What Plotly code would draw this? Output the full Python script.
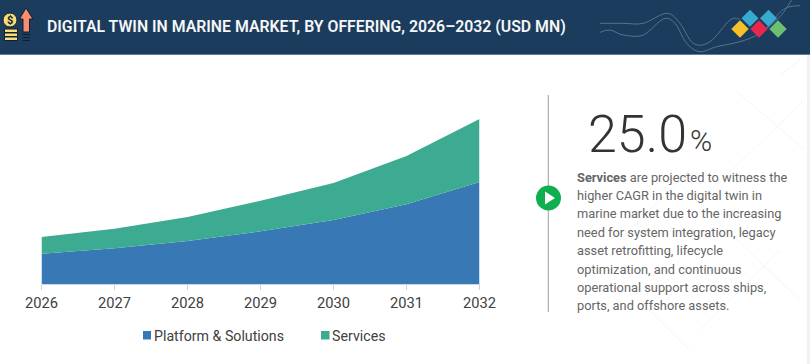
import plotly.graph_objects as go

years = [2026, 2027, 2028, 2029, 2030, 2031, 2032]
platform_solutions = [30.3, 35.7, 43.0, 52.7, 64.0, 79.7, 102.0]
services = [16.7, 19.6, 24.0, 30.6, 37.0, 48.3, 63.0]

title_text = "DIGITAL TWIN IN MARINE MARKET, BY OFFERING, 2026–2032 (USD MN)"
body_lines = [
    "<b>Services</b> are projected to witness the",
    "higher CAGR in the digital twin in",
    "marine market due to the increasing",
    "need for system integration, legacy",
    "asset retrofitting, lifecycle",
    "optimization, and continuous",
    "operational support across ships,",
    "ports, and offshore assets.",
]

W, H = 810, 364
FONT = "Roboto"
NAVY = "#1b3c5c"
BLUE = "#3778b5"
TEAL = "#3dab92"


def px(x):
    return x / W


def py(y):
    return 1 - y / H


def poly(points, close=True):
    d = "M" + " L".join(f"{px(x):.5f},{py(y):.5f}" for x, y in points)
    return d + (" Z" if close else "")


def smooth(points):
    d = f"M{px(points[0][0]):.5f},{py(points[0][1]):.5f}"
    n = len(points)
    for i in range(n - 1):
        p0 = points[max(i - 1, 0)]
        p1 = points[i]
        p2 = points[i + 1]
        p3 = points[min(i + 2, n - 1)]
        c1 = (p1[0] + (p2[0] - p0[0]) / 6, p1[1] + (p2[1] - p0[1]) / 6)
        c2 = (p2[0] - (p3[0] - p1[0]) / 6, p2[1] - (p3[1] - p1[1]) / 6)
        d += (f" C{px(c1[0]):.5f},{py(c1[1]):.5f} {px(c2[0]):.5f},{py(c2[1]):.5f}"
              f" {px(p2[0]):.5f},{py(p2[1]):.5f}")
    return d


def rect(x0, y0, x1, y1, fill, line=None, lw=0):
    return dict(type="rect", xref="paper", yref="paper", x0=px(x0), x1=px(x1),
                y0=py(y0), y1=py(y1), fillcolor=fill, line=dict(color=line or fill, width=lw))


def path(d, fill=None, line=None, lw=0):
    s = dict(type="path", xref="paper", yref="paper", path=d, line=dict(width=lw, color=line or "rgba(0,0,0,0)"))
    if fill:
        s["fillcolor"] = fill
    return s


def circle(cx, cy, r, fill, line=None, lw=0):
    return dict(type="circle", xref="paper", yref="paper", x0=px(cx - r), x1=px(cx + r),
                y0=py(cy - r), y1=py(cy + r), fillcolor=fill, line=dict(color=line or fill, width=lw))


def diamond(cx, cy, r, fill):
    return path(poly([(cx - r, cy), (cx, cy - r), (cx + r, cy), (cx, cy + r)]), fill=fill)


def zoomed(pts):
    return [(600 + x / 3, y / 3) for x, y in pts]


shapes = [rect(0, 0, W, 54, NAVY), rect(0, 54, W, 55, "#5f7f98")]

# faint page texture
for a, b in [((735, 90), (805, 150)), ((690, 170), (620, 240)), ((805, 100), (700, 200)),
             ((680, 185), (800, 300)), ((780, 250), (700, 330)), ((800, 60), (780, 75)),
             ((640, 300), (690, 350))]:
    shapes.append(path(poly([a, b], close=False), line="#f6f6f6", lw=1))
shapes.append(rect(807, 55, 810, H, "#f1f1f1"))

# header waves
for pts in [
    [(0, 70), (70, 70), (130, 70), (200, 40), (240, 70), (280, 130), (330, 125), (390, 60), (420, 58)],
    [(0, 97), (30, 90), (70, 105), (130, 105), (190, 57), (225, 70), (260, 130), (300, 155), (350, 140),
     (420, 125), (480, 100), (540, 50), (575, 0)],
    [(480, 105), (520, 60), (545, 32), (570, 20), (600, 17)],
]:
    shapes.append(path(smooth(zoomed(pts)), line="#56748f", lw=1))

# header diamonds
shapes += [
    diamond(750, 18.3, 8.5, "#38a9cf"),
    diamond(768.5, 18.3, 8.5, "#38a9cf"),
    diamond(740, 29, 8.7, "#f5c02a"),
    diamond(759, 29, 8.7, "#e8274a"),
    diamond(778, 29, 8.7, "#6cc070"),
]

# header icon
shapes += [
    circle(10, 20, 7, "#f6dd7a", "#10202e", 1),
    rect(4.5, 29, 17.5, 32.5, "#f6dd7a", "#10202e", 1),
    rect(4.5, 33, 17.5, 36.5, "#f6dd7a", "#10202e", 1),
    rect(4.5, 37, 17.5, 40.5, "#f6dd7a", "#10202e", 1),
    path(poly([(26, 8), (33, 19), (29.5, 19), (29.5, 32), (23, 32), (23, 19), (19.5, 19)]),
         fill="#f98e6f", line="#10202e", lw=1),
    rect(22.5, 34, 30, 35, "#10202e"),
    rect(22.5, 37, 30, 38, "#10202e"),
    rect(22.5, 40, 30, 41, "#10202e"),
]

# divider and play button
shapes += [
    rect(547.7, 95, 549, 312, "#b3b3b3"),
    circle(548.5, 198, 12.5, "#0fae4f"),
    path(poly([(545, 191.5), (555, 198), (545, 204.5)]), fill="white"),
]

# legend swatches
shapes += [rect(143, 331, 151, 339.5, BLUE), rect(321, 331, 329.5, 339.5, TEAL)]


def note(text, x, y, size, color, anchor="left", weight=None):
    return dict(text=text, xref="paper", yref="paper", x=px(x), y=py(y), xanchor=anchor, yanchor="middle",
                showarrow=False, align="left",
                font=dict(family=FONT, size=size, color=color, **({"weight": weight} if weight else {})))


annotations = [
    note(title_text, 45, 27, 15.83, "#f4f6f8", weight=600),
    note("$", 10, 20, 11, "#10202e", anchor="center", weight=700),
    note("25.0", 586, 134, 52, "#333333", weight=300),
    note("%", 688, 141, 30, "#333333", weight=300),
    note("Platform &amp; Solutions", 152, 336, 14.2, "#404040"),
    note("Services", 330, 336, 14.2, "#404040"),
]
for i, line in enumerate(body_lines):
    annotations.append(note(line, 575, 177 + i * 18.4, 12.8, "#666666"))

fig = go.Figure()
fig.add_trace(go.Scatter(x=years, y=platform_solutions, name="Platform & Solutions", stackgroup="one",
                         mode="none", fillcolor=BLUE, showlegend=False))
fig.add_trace(go.Scatter(x=years, y=services, name="Services", stackgroup="one",
                         mode="none", fillcolor=TEAL, showlegend=False))

fig.update_layout(
    width=W, height=H, margin=dict(l=0, r=0, t=0, b=0, pad=0),
    paper_bgcolor="white", plot_bgcolor="rgba(0,0,0,0)",
    shapes=[dict(s, layer="below") for s in shapes],
    annotations=annotations,
    showlegend=False,
    xaxis=dict(domain=[41.5 / W, 479.5 / W], range=[2026, 2032], tickvals=years, ticktext=[str(y) for y in years],
               automargin=False,
               showgrid=False, zeroline=False, showline=True, linecolor="#c9d6e4", linewidth=1,
               ticks="outside", ticklen=5, tickcolor="#d0d0d0", tickwidth=1,
               tickfont=dict(family=FONT, size=14.7, color="#404040")),
    yaxis=dict(domain=[(H - 284) / H, 1], range=[0, 284], visible=False, automargin=False),
)

fig.write_html("out.html", config=dict(displayModeBar=False),
               post_script="document.body.style.margin='0';document.body.style.overflow='hidden';")
